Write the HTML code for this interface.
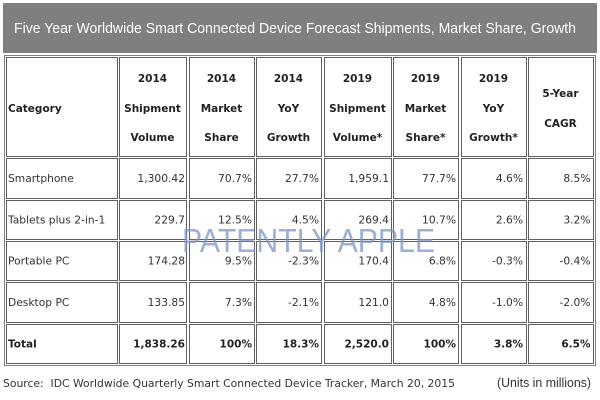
<!DOCTYPE html>
<html>
<head>
<meta charset="utf-8">
<style>
html,body{margin:0;padding:0;background:#fff;}
body{width:600px;height:400px;overflow:hidden;}
svg{display:block;}
.d{font-family:"DejaVu Sans","Liberation Sans",sans-serif;font-size:10.7px;fill:#333;}
.b{font-family:"DejaVu Sans","Liberation Sans",sans-serif;font-size:10.5px;font-weight:bold;fill:#222;}
.c{text-anchor:middle;}
.e{text-anchor:end;}
</style>
</head>
<body>
<svg width="600" height="400" viewBox="0 0 600 400" xmlns="http://www.w3.org/2000/svg">
  <rect x="0" y="0" width="600" height="400" fill="#fff"/>
  <!-- title bar -->
  <rect x="3" y="3" width="594" height="50" fill="#7f7f7f"/>
  <text x="14" y="33" fill="#fff" font-family="'Liberation Sans',sans-serif" font-size="15" textLength="562" lengthAdjust="spacingAndGlyphs">Five Year Worldwide Smart Connected Device Forecast Shipments, Market Share, Growth</text>

  <!-- outer table border -->
  <rect x="4.5" y="55.5" width="591" height="310" fill="none" stroke="#808080" stroke-width="1"/>

  <g fill="#fff" stroke="#606060" stroke-width="1">
    <!-- header row 57-156 -->
    <rect x="6.5" y="57.5" width="111" height="99"/>
    <rect x="119.5" y="57.5" width="67" height="99"/>
    <rect x="189.5" y="57.5" width="65" height="99"/>
    <rect x="256.5" y="57.5" width="65" height="99"/>
    <rect x="324.5" y="57.5" width="67" height="99"/>
    <rect x="393.5" y="57.5" width="65" height="99"/>
    <rect x="461.5" y="57.5" width="65" height="99"/>
    <rect x="528.5" y="57.5" width="65" height="99"/>
    <!-- row1 158-198 -->
    <rect x="6.5" y="158.5" width="111" height="40"/>
    <rect x="119.5" y="158.5" width="67" height="40"/>
    <rect x="189.5" y="158.5" width="65" height="40"/>
    <rect x="256.5" y="158.5" width="65" height="40"/>
    <rect x="324.5" y="158.5" width="67" height="40"/>
    <rect x="393.5" y="158.5" width="65" height="40"/>
    <rect x="461.5" y="158.5" width="65" height="40"/>
    <rect x="528.5" y="158.5" width="65" height="40"/>
    <!-- row2 200-239 -->
    <rect x="6.5" y="200.5" width="111" height="39"/>
    <rect x="119.5" y="200.5" width="67" height="39"/>
    <rect x="189.5" y="200.5" width="65" height="39"/>
    <rect x="256.5" y="200.5" width="65" height="39"/>
    <rect x="324.5" y="200.5" width="67" height="39"/>
    <rect x="393.5" y="200.5" width="65" height="39"/>
    <rect x="461.5" y="200.5" width="65" height="39"/>
    <rect x="528.5" y="200.5" width="65" height="39"/>
    <!-- row3 241-280 -->
    <rect x="6.5" y="241.5" width="111" height="39"/>
    <rect x="119.5" y="241.5" width="67" height="39"/>
    <rect x="189.5" y="241.5" width="65" height="39"/>
    <rect x="256.5" y="241.5" width="65" height="39"/>
    <rect x="324.5" y="241.5" width="67" height="39"/>
    <rect x="393.5" y="241.5" width="65" height="39"/>
    <rect x="461.5" y="241.5" width="65" height="39"/>
    <rect x="528.5" y="241.5" width="65" height="39"/>
    <!-- row4 282-322 -->
    <rect x="6.5" y="282.5" width="111" height="40"/>
    <rect x="119.5" y="282.5" width="67" height="40"/>
    <rect x="189.5" y="282.5" width="65" height="40"/>
    <rect x="256.5" y="282.5" width="65" height="40"/>
    <rect x="324.5" y="282.5" width="67" height="40"/>
    <rect x="393.5" y="282.5" width="65" height="40"/>
    <rect x="461.5" y="282.5" width="65" height="40"/>
    <rect x="528.5" y="282.5" width="65" height="40"/>
    <!-- row5 324-363 -->
    <rect x="6.5" y="324.5" width="111" height="39"/>
    <rect x="119.5" y="324.5" width="67" height="39"/>
    <rect x="189.5" y="324.5" width="65" height="39"/>
    <rect x="256.5" y="324.5" width="65" height="39"/>
    <rect x="324.5" y="324.5" width="67" height="39"/>
    <rect x="393.5" y="324.5" width="65" height="39"/>
    <rect x="461.5" y="324.5" width="65" height="39"/>
    <rect x="528.5" y="324.5" width="65" height="39"/>
  </g>

  <!-- header text -->
  <text class="b" x="8" y="112">Category</text>

  <text class="b c" x="152.5" y="82">2014</text>
  <text class="b c" x="152.5" y="112">Shipment</text>
  <text class="b c" x="152.5" y="141">Volume</text>

  <text class="b c" x="221.5" y="82">2014</text>
  <text class="b c" x="221.5" y="112">Market</text>
  <text class="b c" x="221.5" y="141">Share</text>

  <text class="b c" x="288.5" y="82">2014</text>
  <text class="b c" x="288.5" y="112">YoY</text>
  <text class="b c" x="288.5" y="141">Growth</text>

  <text class="b c" x="357.5" y="82">2019</text>
  <text class="b c" x="357.5" y="112">Shipment</text>
  <text class="b c" x="357.5" y="141">Volume*</text>

  <text class="b c" x="425.5" y="82">2019</text>
  <text class="b c" x="425.5" y="112">Market</text>
  <text class="b c" x="425.5" y="141">Share*</text>

  <text class="b c" x="493.5" y="82">2019</text>
  <text class="b c" x="493.5" y="112">YoY</text>
  <text class="b c" x="493.5" y="141">Growth*</text>

  <text class="b c" x="560.5" y="97">5-Year</text>
  <text class="b c" x="560.5" y="127">CAGR</text>

  <!-- row 1 -->
  <text class="d" x="8" y="182">Smartphone</text>
  <text class="d e" x="185" y="182">1,300.42</text>
  <text class="d e" x="252" y="182">70.7%</text>
  <text class="d e" x="319" y="182">27.7%</text>
  <text class="d e" x="389" y="182">1,959.1</text>
  <text class="d e" x="456" y="182">77.7%</text>
  <text class="d e" x="523" y="182">4.6%</text>
  <text class="d e" x="590.5" y="182">8.5%</text>

  <!-- row 2 -->
  <text class="d" x="8" y="223.5">Tablets plus 2-in-1</text>
  <text class="d e" x="185" y="223.5">229.7</text>
  <text class="d e" x="252" y="223.5">12.5%</text>
  <text class="d e" x="319" y="223.5">4.5%</text>
  <text class="d e" x="389" y="223.5">269.4</text>
  <text class="d e" x="456" y="223.5">10.7%</text>
  <text class="d e" x="523" y="223.5">2.6%</text>
  <text class="d e" x="590.5" y="223.5">3.2%</text>

  <!-- row 3 -->
  <text class="d" x="8" y="264.5">Portable PC</text>
  <text class="d e" x="185" y="264.5">174.28</text>
  <text class="d e" x="252" y="264.5">9.5%</text>
  <text class="d e" x="319" y="264.5">-2.3%</text>
  <text class="d e" x="389" y="264.5">170.4</text>
  <text class="d e" x="456" y="264.5">6.8%</text>
  <text class="d e" x="523" y="264.5">-0.3%</text>
  <text class="d e" x="590.5" y="264.5">-0.4%</text>

  <!-- row 4 -->
  <text class="d" x="8" y="306">Desktop PC</text>
  <text class="d e" x="185" y="306">133.85</text>
  <text class="d e" x="252" y="306">7.3%</text>
  <text class="d e" x="319" y="306">-2.1%</text>
  <text class="d e" x="389" y="306">121.0</text>
  <text class="d e" x="456" y="306">4.8%</text>
  <text class="d e" x="523" y="306">-1.0%</text>
  <text class="d e" x="590.5" y="306">-2.0%</text>

  <!-- row 5 total -->
  <text class="b" x="8" y="347.5">Total</text>
  <text class="b e" x="185" y="347.5">1,838.26</text>
  <text class="b e" x="252" y="347.5">100%</text>
  <text class="b e" x="319" y="347.5">18.3%</text>
  <text class="b e" x="389" y="347.5">2,520.0</text>
  <text class="b e" x="456" y="347.5">100%</text>
  <text class="b e" x="523" y="347.5">3.8%</text>
  <text class="b e" x="590.5" y="347.5">6.5%</text>

  <!-- watermark -->
  <text x="182" y="252" font-family="'Liberation Sans',sans-serif" font-size="33" fill="#7a96c6" fill-opacity="0.75" textLength="253" lengthAdjust="spacingAndGlyphs">PATENTLY APPLE</text>

  <!-- footer -->
  <text x="3" y="387" font-family="'DejaVu Sans','Liberation Sans',sans-serif" font-size="11" fill="#333" textLength="452" lengthAdjust="spacingAndGlyphs">Source:&#160; IDC Worldwide Quarterly Smart Connected Device Tracker, March 20, 2015</text>
  <text x="497" y="387" font-family="'Liberation Sans',sans-serif" font-size="13" fill="#333" textLength="94" lengthAdjust="spacingAndGlyphs">(Units in millions)</text>
</svg>
</body>
</html>
